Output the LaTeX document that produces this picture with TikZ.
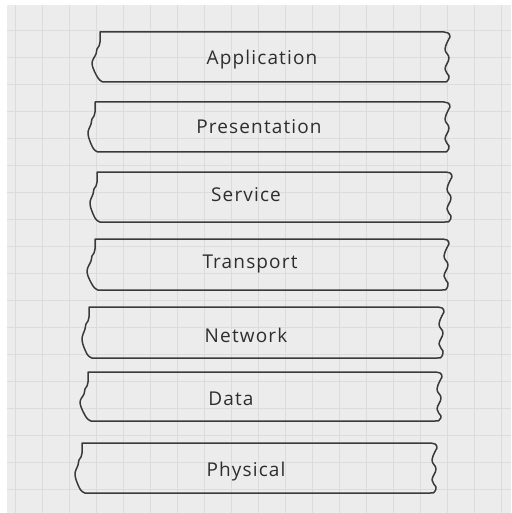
\documentclass[tikz,border=0pt]{standalone}
\usepackage{fontspec}
\newfontfamily\handfont{Open Sans}[LetterSpace=6]
\definecolor{paper}{HTML}{ECECEC}
\definecolor{gridline}{HTML}{DCDCDC}
\definecolor{ink}{HTML}{3A3A3A}
\definecolor{txt}{HTML}{2E2E2E}
\tikzset{
  tornline/.style={draw=ink, line width=1.5pt, line join=round, line cap=round},
  layerlabel/.style={font=\handfont\fontsize{19}{19}\selectfont, text=txt, inner sep=0pt, anchor=base}
}
% #1 left corner x, #2 wave min x, #3 right x, #4 top y, #5 bottom y
\newcommand\tornbox[5]{%
  \draw[tornline] ({#1},{#4}) -- ({#3-3},{#4})
    .. controls ({#3},{#4}) and ({#3+3},{#4+1}) .. ({#3+3},{#4+5})
    -- plot[smooth, tension=0.7] coordinates {({#3+3},{#4+5}) ({#3-2},{#4+17}) ({#3+2},{#4+26}) ({#3-2},{#4+37}) ({#3+2},{#4+44}) ({#3+1},{#5-2})}
    .. controls ({#3},{#5}) .. ({#3-4},{#5})
    -- ({#1+3},{#5})
    -- plot[smooth, tension=0.6] coordinates {({#1+3},{#5}) ({#1-2},{#5-4}) ({#2},{#5-18}) ({#1-4},{#4+22}) ({#1-3},{#4+17}) ({#1-1},{#4+14}) ({#1},{#4+10})}
    -- cycle;}
\begin{document}
\begin{tikzpicture}[x=1pt,y=-1pt]
\useasboundingbox (0,0) rectangle (511,513);
\fill[white] (0,0) rectangle (511,513);
\fill[paper] (7,5) rectangle (511,513);
\foreach \k in {0,...,18} {\draw[gridline, line width=0.6pt] ({15+27*\k},5) -- ({15+27*\k},513);}
\foreach \k in {0,...,17} {\draw[gridline, line width=0.6pt] (7,{30+27*\k}) -- (511,{30+27*\k});}
\tornbox{100}{92}{447}{32}{82}
\tornbox{95}{88}{447}{102}{152}
\tornbox{97}{90}{449}{172}{222}
\tornbox{95}{87}{446}{239}{290}
\tornbox{89}{82}{441}{307}{358}
\tornbox{88}{80}{439}{372}{421}
\tornbox{82}{75}{434}{443}{493}
\node[layerlabel] (application) at (262,65) {Application};
\node[layerlabel] (presentation) at (259,134) {Presentation};
\node[layerlabel] (service) at (246,201) {Service};
\node[layerlabel] (transport) at (250,268) {Transport};
\node[layerlabel] (network) at (246,342) {Network};
\node[layerlabel] (data) at (231,405) {Data};
\node[layerlabel] (physical) at (246,476) {Physical};
\end{tikzpicture}
\end{document}
